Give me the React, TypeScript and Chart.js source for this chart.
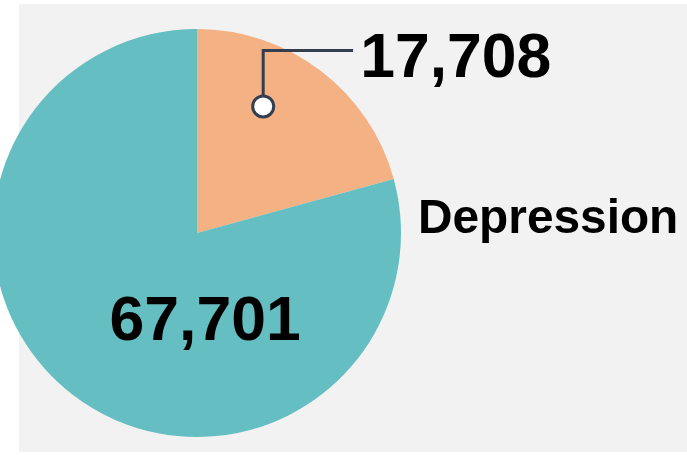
import React, { useEffect, useRef } from "react";
import { Chart, registerables } from "chart.js";

Chart.register(...registerables);

const categories = ["Depression", "Other"];
const values = [17708, 67701];
const valueLabels = ["17,708", "67,701"];
const colors = ["#f4b183", "#65bfc2"];

const FONT = "'Liberation Sans', Arial, sans-serif";

const labelPlugin = {
  id: "customLabels",
  afterDatasetsDraw(chart: any) {
    const ctx = chart.ctx;
    const meta = chart.getDatasetMeta(0);
    const a0 = meta.data[0];
    const cx = a0.x;
    const cy = a0.y;
    const r = a0.outerRadius;
    ctx.save();
    // leader for first slice
    const ang = a0.startAngle + 0.37 * (a0.endAngle - a0.startAngle);
    const mx = cx + Math.cos(ang) * r * 0.7;
    const my = cy + Math.sin(ang) * r * 0.7;
    const elbowY = cy - 0.895 * r;
    const endX = cx + 0.765 * r;
    ctx.strokeStyle = "#333f50";
    ctx.lineWidth = 3;
    ctx.beginPath();
    ctx.moveTo(mx, my);
    ctx.lineTo(mx, elbowY);
    ctx.lineTo(endX, elbowY);
    ctx.stroke();
    ctx.beginPath();
    ctx.arc(mx, my, 10.5, 0, Math.PI * 2);
    ctx.fillStyle = "#ffffff";
    ctx.fill();
    ctx.stroke();
    ctx.fillStyle = "#000000";
    ctx.font = `bold 62.5px ${FONT}`;
    ctx.textAlign = "left";
    ctx.textBaseline = "alphabetic";
    ctx.fillText(valueLabels[0], cx + 0.8 * r, cy - 0.765 * r);
    // category label
    ctx.font = `bold 47.8px ${FONT}`;
    ctx.fillText(categories[0], cx + r + 17, cy);
    // second slice value
    ctx.font = `bold 62.5px ${FONT}`;
    ctx.textAlign = "center";
    ctx.fillText(valueLabels[1], cx + 0.04 * r, cy + 0.525 * r);
    ctx.restore();
  },
};

export default function App() {
  const ref = useRef<HTMLCanvasElement>(null);
  useEffect(() => {
    document.body.style.margin = "0";
    document.body.style.overflow = "hidden";
    const chart = new Chart(ref.current!, {
      type: "pie",
      data: {
        labels: categories,
        datasets: [
          {
            data: values,
            backgroundColor: colors,
            borderWidth: 0,
          },
        ],
      },
      options: {
        responsive: false,
        animation: false,
        events: [],
        layout: { padding: { left: 0, right: 286, top: 29, bottom: 18 } },
        plugins: {
          legend: { display: false },
          tooltip: { enabled: false },
        },
      },
      plugins: [labelPlugin],
    });
    return () => chart.destroy();
  }, []);
  return (
    <div style={{ position: "absolute", left: 0, top: 0, width: 687, height: 455, overflow: "hidden", background: "#ffffff" }}>
      <div style={{ position: "absolute", left: 19, top: 4, width: 668, height: 448, background: "#f2f2f2" }} />
      <canvas ref={ref} width={694} height={455} style={{ position: "absolute", left: -7, top: 0 }} />
    </div>
  );
}
